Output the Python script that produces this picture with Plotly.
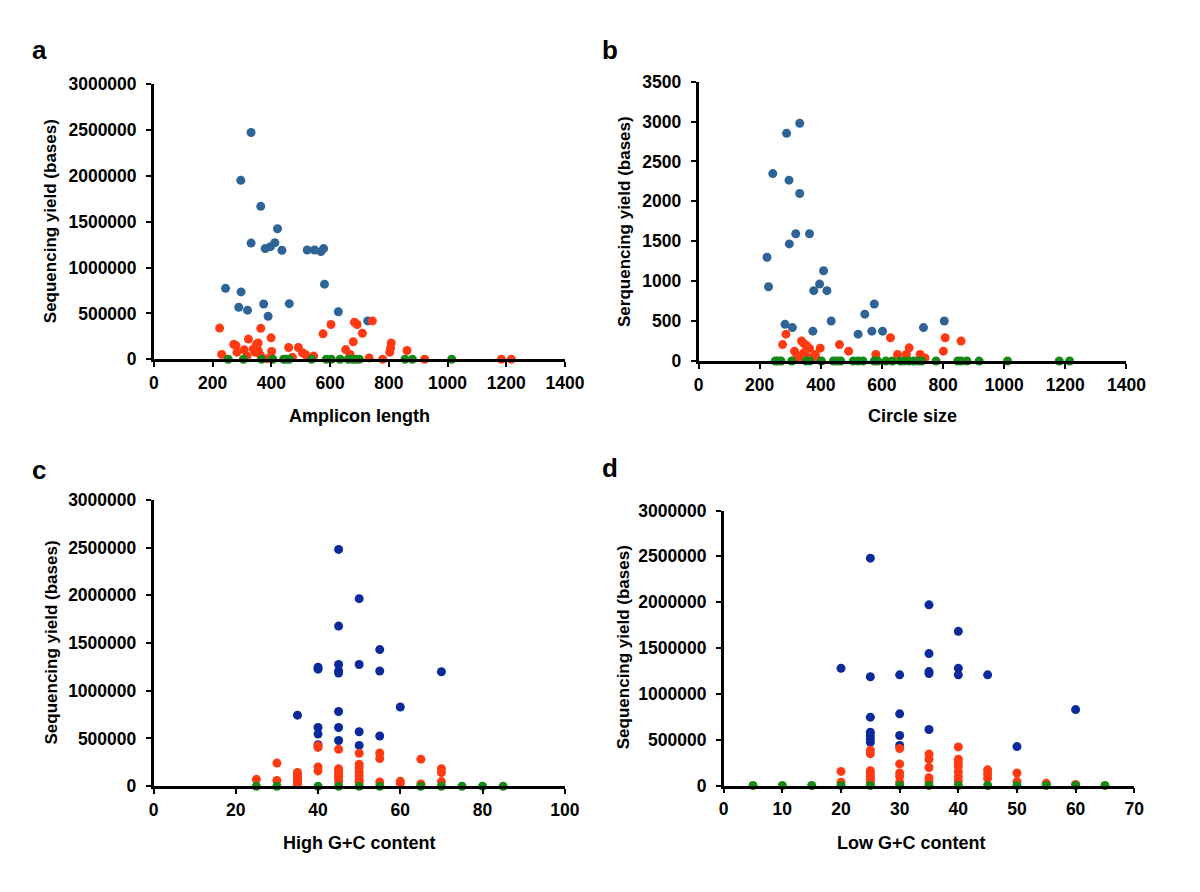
import plotly.graph_objects as go

# ---------------- data ----------------
# Panel a: Amplicon length vs sequencing yield
a_blue_x = [331, 296, 364, 421, 331, 379, 397, 412, 436, 522, 547, 569, 578, 581, 244, 297, 289, 319, 374, 461, 389, 628, 728]
a_blue_y = [2472000, 1950000, 1667000, 1422000, 1266000, 1206000, 1227000, 1270000, 1188000, 1191000, 1191000, 1174000,
            1206000, 819000, 773000, 734000, 567000, 535000, 603000, 606000, 468000, 518000, 418000]
a_red_x = [224, 231, 272, 280, 283, 308, 322, 339, 350, 355, 344, 364, 355, 363, 317, 399, 401, 386, 459, 472, 492,
           506, 517, 544, 576, 603, 653, 668, 679, 683, 692, 710, 744, 733, 779, 803, 808, 806, 862, 922, 1183, 1217]
a_red_y = [340000, 53000, 163000, 149000, 78000, 103000, 220000, 113000, 167000, 177000, 78000, 337000, 96000, 43000,
           35000, 234000, 85000, 7000, 128000, 21000, 128000, 71000, 50000, 35000, 277000, 379000, 106000, 53000,
           191000, 404000, 379000, 284000, 418000, 14000, 0, 78000, 177000, 124000, 96000, 0, 0, 0]
a_green_x = [253, 305, 367, 405, 442, 450, 461, 537, 587, 604, 634, 662, 676, 689, 700, 855, 880, 1014]
a_green_y = [0] * len(a_green_x)

# Panel b: Circle size vs sequencing yield
b_blue_x = [331, 288, 243, 296, 331, 318, 363, 297, 224, 229, 409, 396, 377, 420, 434, 283, 307, 374, 522, 544, 575,
            567, 602, 736, 804]
b_blue_y = [2979, 2852, 2348, 2266, 2098, 1594, 1594, 1467, 1299, 930, 1131, 963, 881, 881, 500, 459, 418, 373, 336,
            586, 713, 373, 373, 418, 500]
b_red_x = [286, 275, 314, 337, 345, 353, 363, 345, 327, 382, 386, 398, 461, 491, 580, 628, 651, 680, 689, 725, 741,
           801, 807, 859, 322, 360]
b_red_y = [336, 205, 123, 250, 217, 193, 156, 102, 37, 82, 20, 160, 205, 123, 82, 291, 82, 82, 164, 82, 37, 123, 291,
           250, 70, 40]
b_green_x = [251, 259, 270, 305, 352, 363, 402, 441, 454, 465, 506, 522, 538, 575, 586, 613, 634, 661, 672, 688, 704,
             720, 730, 777, 848, 859, 878, 918, 1011, 1180, 1214]
b_green_y = [0] * len(b_green_x)

# Panel c: High G+C content vs sequencing yield
c_blue_x = [45, 50, 45, 55, 40, 40, 45, 50, 45, 45, 55, 70, 60, 35, 45, 40, 40, 45, 45, 50, 55, 50, 40]
c_blue_y = [2480000, 1964000, 1677000, 1431000, 1247000, 1226000, 1274000, 1274000, 1206000, 1185000, 1206000,
            1199000, 830000, 744000, 782000, 615000, 546000, 615000, 478000, 570000, 526000, 427000, 434000]
c_red_x = [25, 30, 30, 35, 35, 35, 35, 35, 35, 40, 40, 40, 40, 45, 45, 45, 45, 45, 45, 45, 50, 50, 50, 50, 50, 50, 50,
           55, 55, 55, 60, 60, 65, 65, 70, 70, 70]
c_red_y = [72000, 242000, 61000, 143000, 116000, 92000, 68000, 41000, 17000, 423000, 406000, 201000, 160000, 386000,
           184000, 160000, 137000, 109000, 82000, 48000, 345000, 229000, 195000, 150000, 109000, 68000, 41000, 348000,
           290000, 44000, 51000, 31000, 283000, 24000, 184000, 143000, 48000]
c_green_x = [25, 30, 40, 45, 50, 55, 65, 70, 75, 80, 85]
c_green_y = [0] * len(c_green_x)

# Panel d: Low G+C content vs sequencing yield
d_blue_x = [20, 25, 25, 25, 25, 25, 25, 25, 30, 30, 30, 30, 35, 35, 35, 35, 35, 40, 40, 40, 45, 50, 60]
d_blue_y = [1278000, 2480000, 1186000, 746000, 582000, 543000, 507000, 471000, 1207000, 782000, 546000, 436000,
            1971000, 1439000, 1243000, 1221000, 611000, 1682000, 1278000, 1207000, 1207000, 425000, 828000]
d_red_x = [20, 20, 25, 25, 25, 25, 25, 25, 25, 30, 30, 30, 30, 30, 35, 35, 35, 35, 35, 40, 40, 40, 40, 40, 40, 40,
           45, 45, 45, 50, 50, 55, 60]
d_red_y = [154000, 36000, 386000, 346000, 161000, 132000, 100000, 71000, 36000, 404000, 236000, 136000, 100000,
           36000, 343000, 286000, 196000, 86000, 43000, 421000, 286000, 250000, 207000, 150000, 100000, 50000,
           171000, 125000, 79000, 136000, 43000, 25000, 11000]
d_green_x = [5, 10, 15, 20, 25, 30, 35, 40, 45, 50, 55, 60, 65]
d_green_y = [0] * len(d_green_x)

# Tick values
len_ticks = [0, 200, 400, 600, 800, 1000, 1200, 1400]
yield_ticks = [0, 500000, 1000000, 1500000, 2000000, 2500000, 3000000]
circle_yticks = [0, 500, 1000, 1500, 2000, 2500, 3000, 3500]
high_gc_ticks = [0, 20, 40, 60, 80, 100]
low_gc_ticks = [0, 10, 20, 30, 40, 50, 60, 70]

# Text
panel_letters = ["a", "b", "c", "d"]
x_titles = ["Amplicon length", "Circle size", "High G+C content", "Low G+C content"]
y_titles = ["Sequencing yield (bases)", "Serquencing yield (bases)",
            "Sequencing yield (bases)", "Sequencing yield (bases)"]

# ---------------- styling ----------------
W, H = 1200, 892
BLUE_AB = "#2f6497"
BLUE_CD = "#0a2a9c"
RED = "#ff3a12"
GREEN = "#158a15"
FONT = "Liberation Sans, Arial, sans-serif"

fig = go.Figure()

panels = [
    (a_blue_x, a_blue_y, a_red_x, a_red_y, a_green_x, a_green_y, BLUE_AB),
    (b_blue_x, b_blue_y, b_red_x, b_red_y, b_green_x, b_green_y, BLUE_AB),
    (c_blue_x, c_blue_y, c_red_x, c_red_y, c_green_x, c_green_y, BLUE_CD),
    (d_blue_x, d_blue_y, d_red_x, d_red_y, d_green_x, d_green_y, BLUE_CD),
]

for i, (bx, by, rx, ry, gx, gy, bcol) in enumerate(panels):
    suffix = "" if i == 0 else str(i + 1)
    for xs, ys, col in [(bx, by, bcol), (rx, ry, RED), (gx, gy, GREEN)]:
        fig.add_trace(go.Scatter(
            x=xs, y=ys, mode="markers",
            marker=dict(size=9, color=col, line=dict(width=0)),
            xaxis="x" + suffix, yaxis="y" + suffix,
            cliponaxis=False, showlegend=False, hoverinfo="x+y",
        ))

def px_x(p):
    return p / W

def px_y(p):
    return 1 - p / H

# pixel geometry of each panel: (x0, x1, y_zero, y_top)
geom = [
    (152, 572, 357.3, 75.7),
    (708.3, 1145.3, 359, 73.3),
    (151.7, 571.7, 794, 501),
    (734, 1153.3, 793.3, 512),
]
xranges = [[0, 1400], [0, 1400], [0, 100], [0, 70]]
xticks = [len_ticks, len_ticks, high_gc_ticks, low_gc_ticks]
yranges = [[0, 3000000], [0, 3500], [0, 3000000], [0, 3000000]]
yticks = [yield_ticks, circle_yticks, yield_ticks, yield_ticks]

tickfont = dict(family=FONT, size=17.5, color="black", weight="bold")
axis_common = dict(showline=True, linecolor="black", linewidth=2.5, ticks="outside", ticklen=5,
                   tickwidth=2, tickcolor="black", showgrid=False, zeroline=False, tickfont=tickfont,
                   fixedrange=True)

layout_axes = {}
for i in range(4):
    suffix = "" if i == 0 else str(i + 1)
    x0, x1, yz, yt = geom[i]
    layout_axes["xaxis" + suffix] = dict(
        axis_common, domain=[px_x(x0), px_x(x1)], range=xranges[i],
        tickvals=xticks[i], ticktext=[str(v) for v in xticks[i]],
        anchor="y" + suffix, ticklabelstandoff=1)
    layout_axes["yaxis" + suffix] = dict(
        axis_common, domain=[px_y(yz), px_y(yt)], range=yranges[i],
        tickvals=yticks[i], ticktext=[str(v) for v in yticks[i]],
        anchor="x" + suffix, ticklabelstandoff=6)

annotations = []
letter_pos = [(35, 41), (618, 41), (35, 471), (618, 468)]
xtitle_pos = [(362, 415.5), (927, 415.5), (362, 852.5), (926, 852.5)]
ytitle_pos = [(46, 216), (632, 216), (47, 647), (632, 652)]
for i in range(4):
    lx, ly = letter_pos[i]
    annotations.append(dict(text=panel_letters[i], x=px_x(lx), y=px_y(ly), xref="paper", yref="paper",
                            showarrow=False, xanchor="center", yanchor="middle",
                            font=dict(family=FONT, size=26, color="black", weight="bold")))
    tx, ty = xtitle_pos[i]
    annotations.append(dict(text=x_titles[i], x=px_x(tx), y=px_y(ty), xref="paper", yref="paper",
                            showarrow=False, xanchor="center", yanchor="middle",
                            font=dict(family=FONT, size=18, color="black", weight="bold")))
    vx, vy = ytitle_pos[i]
    annotations.append(dict(text=y_titles[i], x=px_x(vx), y=px_y(vy), xref="paper", yref="paper",
                            showarrow=False, xanchor="center", yanchor="middle", textangle=-90,
                            font=dict(family=FONT, size=17, color="black", weight="bold")))

fig.update_layout(
    width=W, height=H, margin=dict(l=0, r=0, t=0, b=0),
    paper_bgcolor="white", plot_bgcolor="white",
    annotations=annotations, showlegend=False,
    **layout_axes,
)

fig.write_html("out.html", include_plotlyjs=True, config={"displayModeBar": False},
               post_script="document.body.style.margin='0';document.body.style.overflow='hidden';")
